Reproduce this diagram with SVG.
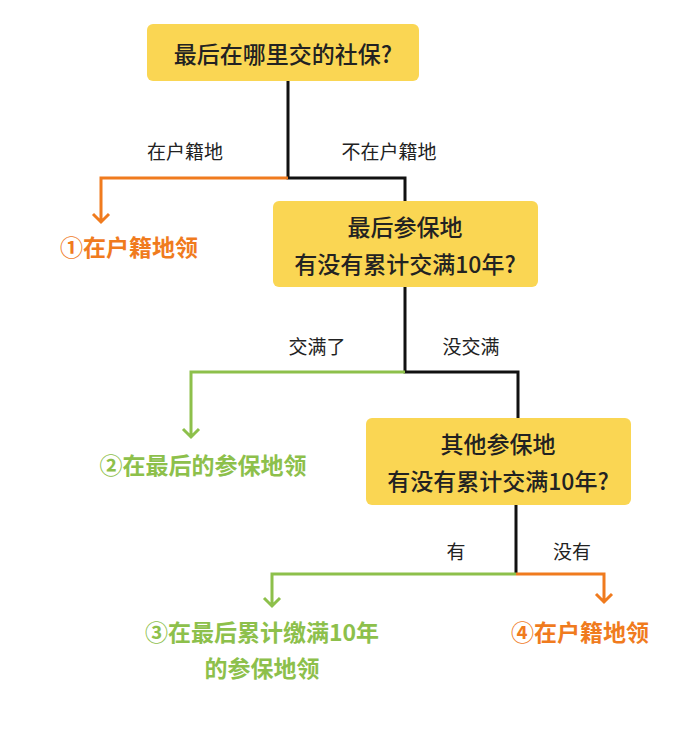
<svg xmlns="http://www.w3.org/2000/svg" width="677" height="731" viewBox="0 0 677 731">
<style>
text{font-family:"Noto Sans CJK SC","Noto Sans",sans-serif;text-anchor:middle}
.box{fill:#FAD653}
.q{font-size:23px;fill:#222;font-weight:500}
.lbl{font-size:19px;fill:#222}
.res{font-size:23px;font-weight:700}
.o{fill:#F07B1E}.g{fill:#8DC04B}
.k{stroke:#111;stroke-width:3;fill:none}
.ol{stroke:#F07B1E;stroke-width:3;fill:none}
.gl{stroke:#8DC04B;stroke-width:3;fill:none}
</style>
<rect width="677" height="731" fill="#fff"/>
<g id="connectors">
<path class="k" d="M288 81V178H405V201"/>
<path class="ol" d="M288 178H101V222M93 214L101 222L109 214"/>
<path class="k" d="M405 287V372H518V418"/>
<path class="gl" d="M405 372H191V437M183 429L191 437L199 429"/>
<path class="k" d="M516 505V574"/>
<path class="gl" d="M516 574H272V606M264 598L272 606L280 598"/>
<path class="ol" d="M516 574H604V602M596 594L604 602L612 594"/>
<text class="lbl" x="185" y="159">在户籍地</text>
<text class="lbl" x="389" y="159">不在户籍地</text>
<text class="lbl" x="317" y="354">交满了</text>
<text class="lbl" x="471" y="354">没交满</text>
<text class="lbl" x="456" y="559">有</text>
<text class="lbl" x="572" y="559">没有</text>
</g>
<g id="q1"><rect class="box" x="147" y="24" width="272" height="57" rx="6"/><text class="q" x="283" y="63">最后在哪里交的社保?</text></g>
<g id="q2"><rect class="box" x="273" y="201" width="265" height="86" rx="6"/><text class="q" x="405" y="236">最后参保地</text><text class="q" x="405" y="273">有没有累计交满10年?</text></g>
<g id="q3"><rect class="box" x="366" y="418" width="265" height="87" rx="6"/><text class="q" x="498" y="453">其他参保地</text><text class="q" x="498" y="490">有没有累计交满10年?</text></g>
<g id="r1"><text class="res o" x="129" y="256">①在户籍地领</text></g>
<g id="r2"><text class="res g" x="203" y="474">②在最后的参保地领</text></g>
<g id="r3"><text class="res g" x="262" y="641">③在最后累计缴满10年</text><text class="res g" x="262" y="677">的参保地领</text></g>
<g id="r4"><text class="res o" x="580" y="641">④在户籍地领</text></g>
</svg>
